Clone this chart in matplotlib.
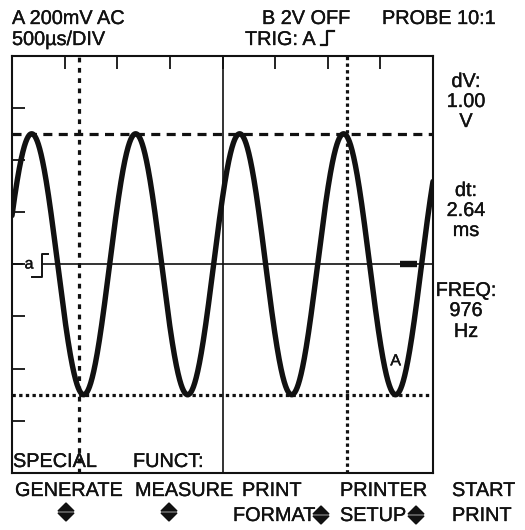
import numpy as np
import matplotlib
matplotlib.use("Agg")
import matplotlib.pyplot as plt
from matplotlib.patches import Polygon
import matplotlib.patheffects as pe

plt.rcParams['font.family'] = ['Liberation Sans', 'DejaVu Sans']
plt.rcParams['lines.scale_dashes'] = False

# ---- instrument settings -------------------------------------------------
header_left = ["A 200mV AC", "500µs/DIV"]
header_mid = ["B 2V OFF", "TRIG: A"]
header_right = "PROBE 10:1"

volts_per_div = 0.2          # channel A sensitivity
n_div_x = 8
n_div_y = 8
ms_per_div = 0.5185          # screen time per division

# ---- trace ---------------------------------------------------------------
freq_hz = 976
amplitude_v = 0.5
first_trough_ms = 0.706

# ---- cursors -------------------------------------------------------------
cursor_t_ms = [0.665, 3.305]
cursor_v = [0.5, -0.5]

# ---- soft keys -----------------------------------------------------------
menu_title = ["SPECIAL", "FUNCT:"]
softkeys = [["GENERATE"], ["MEASURE"], ["PRINT", "FORMAT"],
            ["PRINTER", "SETUP"], ["START", "PRINT"]]

INK = '#111111'
W, H = 525, 530

fig = plt.figure(figsize=(W / 100, H / 100), dpi=100)
fig.patch.set_facecolor('white')

# screen area in pixel coordinates
sx0, sx1, sy0, sy1 = 12, 433, 55.5, 473
ax = fig.add_axes([sx0 / W, 1 - sy1 / H, (sx1 - sx0) / W, (sy1 - sy0) / H])
t_span = n_div_x * ms_per_div
v_half = n_div_y / 2 * volts_per_div
ax.set_xlim(0, t_span)
ax.set_ylim(-v_half, v_half)
ax.set_facecolor('white')
for s in ax.spines.values():
    s.set_linewidth(1.5)
    s.set_color(INK)

ax.xaxis.tick_top()
ax.set_xticks([k * ms_per_div for k in range(1, n_div_x)])
ax.set_yticks([k * volts_per_div for k in range(-3, 4)])
ax.tick_params(axis='x', which='both', direction='in', length=9.5, width=1.3,
               color=INK, labeltop=False, labelbottom=False, top=True, bottom=False)
ax.tick_params(axis='y', which='both', direction='in', length=9.5, width=1.3,
               color=INK, labelleft=False, left=True, right=False)

ytr = ax.get_yaxis_transform()   # x in axes fraction, y in volts

# centre graticule lines
ax.axvline(n_div_x / 2 * ms_per_div, color=INK, lw=1.2, zorder=2)
ax.plot([0, 10 / (sx1 - sx0)], [0, 0], color=INK, lw=1.2, transform=ytr, zorder=2)
ax.plot([30 / (sx1 - sx0), 1], [0, 0], color=INK, lw=1.2, transform=ytr, zorder=2)

# cursors
ax.axhline(cursor_v[0], color=INK, lw=2.3, dashes=(6.5, 4.6), zorder=2)
ax.axvline(cursor_t_ms[0], color=INK, lw=2.3, dashes=(3.4, 4.0), zorder=2)
ax.axhline(cursor_v[1], color=INK, lw=2.3, dashes=(2.4, 2.4), zorder=2)
ax.axvline(cursor_t_ms[1], color=INK, lw=2.3, dashes=(2.4, 2.4), zorder=2)

# trigger level marker
ax.plot([0.922, 0.962], [0, 0], color=INK, lw=4.6, solid_capstyle='butt',
        transform=ytr, zorder=3)

# waveform
t = np.linspace(0, t_span, 3000)
v = -amplitude_v * np.cos(2 * np.pi * freq_hz / 1000.0 * (t - first_trough_ms))
ax.plot(t, v, color=INK, lw=3.9, solid_capstyle='round', zorder=4)

# trace label near a trough
ax.text(first_trough_ms + 3 / (freq_hz / 1000.0), -amplitude_v + 0.13, "A",
        ha='center', va='center', fontsize=11.5, color=INK, zorder=5,
        path_effects=[pe.withStroke(linewidth=0.3, foreground=INK)])

# ---- overlay in pixel coordinates for panel text --------------------------
ov = fig.add_axes([0, 0, 1, 1], zorder=10)
ov.set_xlim(0, W)
ov.set_ylim(H, 0)
ov.axis('off')
ov.patch.set_alpha(0)

fs = 14.3
heavy = [pe.withStroke(linewidth=0.25, foreground=INK)]

def txt(x, y, s, ha='left', size=fs):
    ov.text(x, y, s, ha=ha, va='baseline', fontsize=size, color=INK,
            path_effects=heavy)

txt(12, 24, header_left[0])
txt(12, 45, header_left[1])
txt(262, 24, header_mid[0])
txt(245, 45, header_mid[1])
txt(382, 24, header_right)
# rising-edge trigger symbol
ov.plot([321, 327, 327, 334], [45, 45, 31, 31], color=INK, lw=1.6)

# channel reference marker on the left edge
ov.text(29, 264, "a", ha='center', va='center', fontsize=11.5, color=INK,
        path_effects=heavy)
ov.plot([32, 42, 42, 48], [277, 277, 254, 254], color=INK, lw=1.4)

# measurement readouts
dv = cursor_v[0] - cursor_v[1]
dt = cursor_t_ms[1] - cursor_t_ms[0]
cx = 466
for (y, s) in [(87, "dV:"), (107, f"{dv:.2f}"), (127, "V"),
               (196, "dt:"), (216, f"{dt:.2f}"), (236, "ms"),
               (296, "FREQ:"), (316, f"{freq_hz}"), (337, "Hz")]:
    txt(cx, y, s, ha='center')

# menu title inside screen
txt(13, 467, menu_title[0])
txt(133, 467, menu_title[1])

# soft key labels
key_x = [15, 135, 242, 340, 452]
key_x2 = [None, None, 233, 340, 452]
for i, lab in enumerate(softkeys):
    txt(key_x[i], 496, lab[0])
    if len(lab) > 1:
        txt(key_x2[i], 521, lab[1])

def updown(xc, yc, w=16, h=8, gap=2):
    up = Polygon([(xc - w / 2, yc - gap / 2), (xc + w / 2, yc - gap / 2), (xc, yc - gap / 2 - h)],
                 closed=True, color=INK)
    dn = Polygon([(xc - w / 2, yc + gap / 2), (xc + w / 2, yc + gap / 2), (xc, yc + gap / 2 + h)],
                 closed=True, color=INK)
    ov.add_patch(up)
    ov.add_patch(dn)

for (xc, yc) in [(66, 512), (169, 512), (321, 515), (416, 515)]:
    updown(xc, yc)

fig.savefig("out.png", dpi=100, facecolor='white')
